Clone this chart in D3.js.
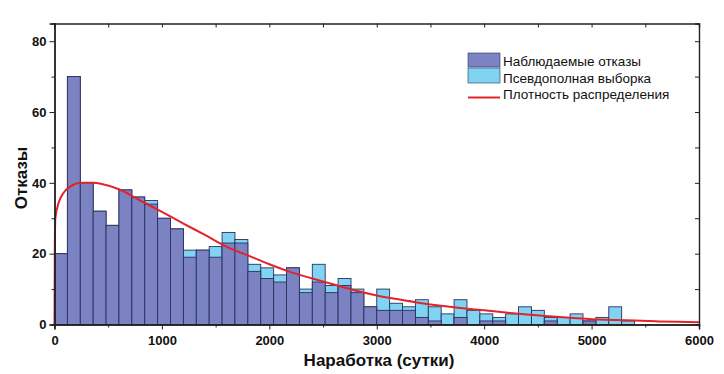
<!DOCTYPE html>
<html lang="ru">
<head>
<meta charset="UTF-8">
<script src="https://d3js.org/d3.v7.min.js"></script>
<style>
  body { margin: 0; background: #fff; }
  svg text { font-family: "Liberation Sans", Arial, sans-serif; }
</style>
</head>
<body>
<svg id="chart" width="724" height="374"></svg>
<script>
// bin width 120 days, 45 bins (0..5400)
const binWidth = 120;
const observed = [20,70,40,32,28,38,36,34,30,27,19,21,19,23,23,15,13,12,16,9,
                  12,9,11,9,5,4,4,4,2,1,0,2,0,1,1,0,0,0,1,0,0,1,0,0,0];
const pseudo   = [20,70,40,32,28,38,36,35,30,27,21,21,22,26,24,17,16,14,16,10,
                  17,11,13,10,5,10,6,5,7,5,3,7,4,3,2,3,5,4,2,2,3,1,2,5,1];
// density curve
const curveX = [0,3,8,40,80,150,250,350,450,600,800,1000,1200,1400,1600,1800,2000,2200,2400,
                2600,2800,3000,3200,3400,3600,3800,4000,4200,4400,4600,4800,5000,5200,5400,5600,5800,6000];
const curveY = [0,22,30,34.5,37,39,40,40,39.6,38.2,35,31.8,28.5,25.3,22,19.5,17,14.8,13,
                11.3,9.6,8.2,7.1,6.1,5.3,4.6,4,3.4,2.8,2.3,1.9,1.5,1.3,1.1,0.9,0.75,0.65];
const xTicks = [0,1000,2000,3000,4000,5000,6000];
const yTicks = [0,20,40,60,80];
const legendLabels = ["Наблюдаемые отказы", "Псевдополная выборка", "Плотность распределения"];

const svg = d3.select("#chart");
const m = {left: 54.5, right: 699, top: 23.5, bottom: 324.5};

const x = d3.scaleLinear().domain([0, 6000]).range([m.left, m.right]);
const y = d3.scaleLinear().domain([0, 85]).range([m.bottom, m.top]);

const darkFill = "#7b83c3", lightFill = "#80d4f1", barStroke = "#2b3160";

// pseudo-complete sample bars (behind)
svg.append("g").selectAll("rect")
  .data(pseudo)
  .join("rect")
  .attr("x", (d, i) => x(i * binWidth))
  .attr("width", (d, i) => x((i + 1) * binWidth) - x(i * binWidth))
  .attr("y", d => y(d))
  .attr("height", d => y(0) - y(d))
  .attr("fill", lightFill)
  .attr("stroke", barStroke)
  .attr("stroke-width", 0.9)
  .attr("stroke-opacity", d => d > 0 ? 1 : 0);

// observed failures
svg.append("g").selectAll("rect")
  .data(observed)
  .join("rect")
  .attr("x", (d, i) => x(i * binWidth))
  .attr("width", (d, i) => x((i + 1) * binWidth) - x(i * binWidth))
  .attr("y", d => y(d))
  .attr("height", d => y(0) - y(d))
  .attr("fill", darkFill)
  .attr("stroke", barStroke)
  .attr("stroke-width", 0.9)
  .attr("stroke-opacity", d => d > 0 ? 1 : 0);

// density line
const line = d3.line()
  .x(d => x(d[0]))
  .y(d => y(d[1]))
  .curve(d3.curveMonotoneX);
svg.append("path")
  .datum(curveX.map((v, i) => [v, curveY[i]]))
  .attr("d", line)
  .attr("fill", "none")
  .attr("stroke", "#e3232b")
  .attr("stroke-width", 2);

// axes (Origin style frame)
const axisColor = "#222";
svg.append("g")
  .attr("transform", `translate(0,${m.bottom})`)
  .call(d3.axisBottom(x).tickValues(xTicks).tickSize(5).tickPadding(6).tickFormat(d3.format("d")));
svg.append("g")
  .attr("transform", `translate(0,${m.bottom})`)
  .call(d3.axisBottom(x).tickValues(d3.range(500, 6000, 1000)).tickSize(3).tickFormat(""));
svg.append("g")
  .attr("transform", `translate(${m.left},0)`)
  .call(d3.axisLeft(y).tickValues(yTicks).tickSize(5).tickPadding(3));
svg.append("g")
  .attr("transform", `translate(${m.left},0)`)
  .call(d3.axisLeft(y).tickValues([10,30,50,70]).tickSize(3).tickFormat(""));
// top and right mirrored axes, ticks inward
svg.append("g")
  .attr("transform", `translate(0,${m.top})`)
  .call(d3.axisBottom(x).tickValues(d3.range(0, 6001, 500)).tickSize(4).tickFormat(""));
svg.append("g")
  .attr("transform", `translate(${m.right},0)`)
  .call(d3.axisLeft(y).tickValues(d3.range(0, 81, 10)).tickSize(4).tickFormat(""));

svg.selectAll(".domain").attr("stroke", axisColor).attr("stroke-width", 1.4);
svg.selectAll(".tick line").attr("stroke", axisColor).attr("stroke-width", 1);
svg.selectAll(".tick text")
  .attr("fill", "#111")
  .style("font-size", "13px")
  .style("font-weight", "bold");

// axis titles
svg.append("text")
  .attr("x", 379)
  .attr("y", 366)
  .attr("text-anchor", "middle")
  .style("font-size", "17px")
  .style("font-weight", "bold")
  .attr("fill", "#111")
  .text("Наработка (сутки)");
svg.append("text")
  .attr("transform", `translate(27,178) rotate(-90)`)
  .attr("text-anchor", "middle")
  .style("font-size", "17px")
  .style("font-weight", "bold")
  .attr("fill", "#111")
  .text("Отказы");

// legend
const lg = svg.append("g").attr("transform", "translate(468,53)");
lg.append("rect").attr("x", 0).attr("y", 0).attr("width", 32).attr("height", 14)
  .attr("fill", darkFill).attr("stroke", barStroke).attr("stroke-width", 0.6);
lg.append("rect").attr("x", 0).attr("y", 15).attr("width", 32).attr("height", 15)
  .attr("fill", lightFill).attr("stroke", barStroke).attr("stroke-width", 0.6);
lg.append("line").attr("x1", 0).attr("x2", 32).attr("y1", 44.5).attr("y2", 44.5)
  .attr("stroke", "#e3232b").attr("stroke-width", 2);
lg.selectAll("text.lbl")
  .data(legendLabels)
  .join("text")
  .attr("class", "lbl")
  .attr("x", 35)
  .attr("y", (d, i) => 13 + i * 16.5)
  .style("font-size", "13.5px")
  .attr("fill", "#111")
  .text(d => d);
</script>
</body>
</html>
